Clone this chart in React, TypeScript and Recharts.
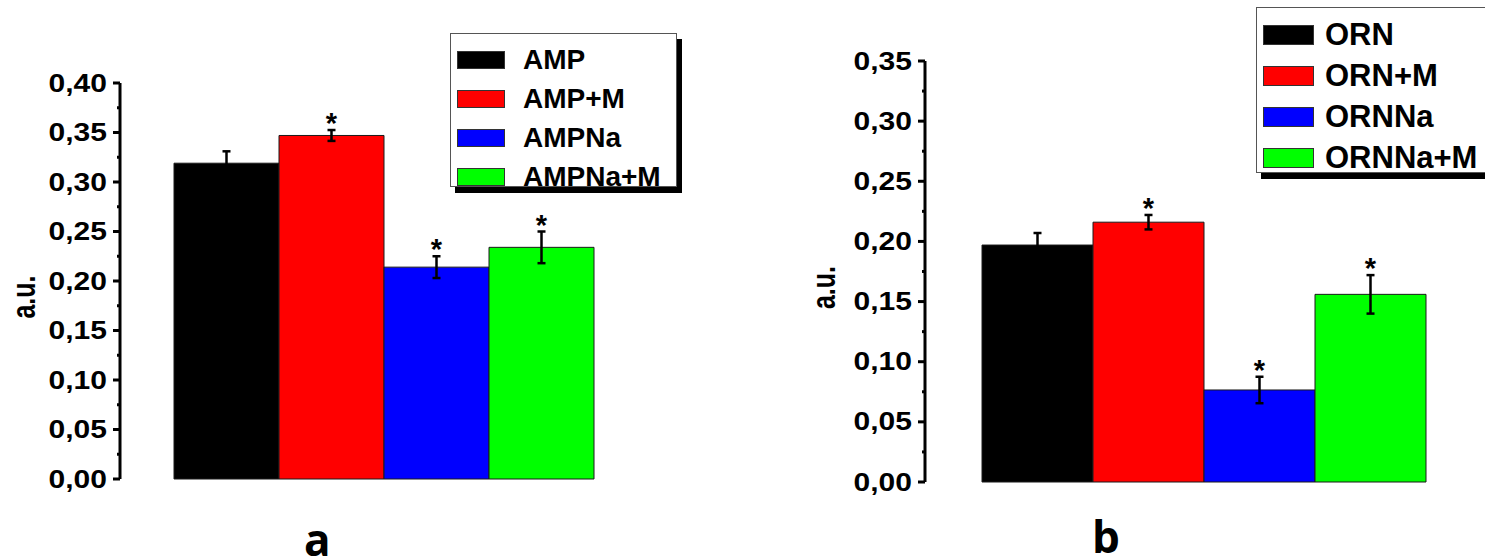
import { BarChart, Bar, XAxis, YAxis, ErrorBar, Legend, LabelList } from 'recharts';

// ---- data ----
const colors = ['#000000', '#ff0000', '#0000ff', '#00ff00'];

const leftNames = ['AMP', 'AMP+M', 'AMPNa', 'AMPNa+M'];
const leftValues = [0.319, 0.347, 0.214, 0.234];
const leftErrors = [0.012, 0.0055, 0.011, 0.016];
const leftStars = ['', '*', '*', '*'];
const leftMajorTicks = [0, 0.05, 0.1, 0.15, 0.2, 0.25, 0.3, 0.35, 0.4];
const leftAllTicks = [0, 0.025, 0.05, 0.075, 0.1, 0.125, 0.15, 0.175, 0.2, 0.225, 0.25, 0.275, 0.3, 0.325, 0.35, 0.375, 0.4];

const rightNames = ['ORN', 'ORN+M', 'ORNNa', 'ORNNa+M'];
const rightValues = [0.197, 0.216, 0.0765, 0.156];
const rightErrors = [0.01, 0.006, 0.011, 0.016];
const rightStars = ['', '*', '*', '*'];
const rightMajorTicks = [0, 0.05, 0.1, 0.15, 0.2, 0.25, 0.3, 0.35];
const rightAllTicks = [0, 0.025, 0.05, 0.075, 0.1, 0.125, 0.15, 0.175, 0.2, 0.225, 0.25, 0.275, 0.3, 0.325, 0.35];

const FONT = '"Liberation Sans", Arial, sans-serif';
const TICK_SIZE = 7;
const TICK_MARGIN = 6;

function buildRow(group: string, values: number[], errors: number[], stars: string[]) {
  const row: any = { group };
  values.forEach((v, i) => {
    row[`s${i}`] = v;
    row[`e${i}`] = errors[i];
    row[`t${i}`] = stars[i];
  });
  return [row];
}

const fmt = (v: number) => v.toFixed(2).replace('.', ',');

function makeTick(major: number[], fontSize: number) {
  return (props: any) => {
    const { x, y, payload } = props;
    const isMajor = major.some((m) => Math.abs(m - payload.value) < 1e-6);
    const ax = x + TICK_SIZE + TICK_MARGIN;
    return (
      <g>
        <line x1={ax - (isMajor ? TICK_SIZE : 3)} x2={ax} y1={y} y2={y} stroke="#000" strokeWidth={3} />
        {isMajor && (
          <text
            transform={`translate(${x},${y}) scale(1.2,1)`}
            textAnchor="end"
            dominantBaseline="central"
            fontFamily={FONT}
            fontWeight="bold"
            fontSize={fontSize}
            fill="#000"
          >
            {fmt(payload.value)}
          </text>
        )}
      </g>
    );
  };
}

function makeAxisTitle(dx: number, dy: number) {
  return (props: any) => {
    const vb = props.viewBox;
    const cx = vb.x + dx;
    const cy = vb.y + vb.height / 2 + dy;
    return (
      <text
        transform={`translate(${cx},${cy}) scale(1.3,1) rotate(-90)`}
        textAnchor="middle"
        dominantBaseline="central"
        fontFamily={FONT}
        fontWeight="bold"
        fontSize={25}
        fill="#000"
      >
        a.u.
      </text>
    );
  };
}

function makeStar(value: number, error: number) {
  return (props: any) => {
    if (!props.value) return null;
    const vb = props.viewBox ?? props;
    const h = Math.abs(vb.height);
    const top = Math.min(vb.y, vb.y + vb.height);
    const errPx = (error * h) / value;
    return (
      <text
        x={vb.x + vb.width / 2}
        y={top - errPx + 3}
        textAnchor="middle"
        fontFamily={FONT}
        fontWeight="bold"
        fontSize={29}
        fill="#000"
      >
        {props.value}
      </text>
    );
  };
}

function makeLegend(opts: { swW: number; swH: number; gap: number; rowH: number; padTop: number; fontSize: number }) {
  return (props: any) => {
    const payload = props.payload || [];
    return (
      <div
        style={{
          width: '100%',
          height: '100%',
          boxSizing: 'border-box',
          background: '#fff',
          border: '1px solid #555',
          boxShadow: '5px 6px 0 #000',
          paddingTop: opts.padTop,
          paddingLeft: 6,
        }}
      >
        {payload.map((p: any) => (
          <div key={p.value} style={{ height: opts.rowH, display: 'flex', alignItems: 'center' }}>
            <div
              style={{
                width: opts.swW,
                height: opts.swH,
                background: p.color,
                border: '1px solid #333',
                boxSizing: 'border-box',
                marginRight: opts.gap,
                flex: 'none',
              }}
            />
            <span
              style={{
                fontFamily: FONT,
                fontWeight: 'bold',
                fontSize: opts.fontSize,
                color: '#000',
                whiteSpace: 'nowrap',
                lineHeight: 1,
              }}
            >
              {p.value}
            </span>
          </div>
        ))}
      </div>
    );
  };
}

interface PanelProps {
  width: number;
  margin: { top: number; right: number; bottom: number; left: number };
  axisWidth: number;
  padLeft: number;
  max: number;
  names: string[];
  values: number[];
  errors: number[];
  stars: string[];
  allTicks: number[];
  majorTicks: number[];
  tickFont: number;
  titleDx: number;
  legendStyle: any;
  legend: any;
  group: string;
}

function Panel(p: PanelProps) {
  const data = buildRow(p.group, p.values, p.errors, p.stars);
  return (
    <BarChart width={p.width} height={560} data={data} margin={p.margin} barGap={0} barCategoryGap={0}>
      <XAxis dataKey="group" hide padding={{ left: p.padLeft, right: 0 }} />
      <YAxis
        width={p.axisWidth}
        domain={[0, p.max]}
        ticks={p.allTicks}
        interval={0}
        tickSize={TICK_SIZE}
        tickMargin={TICK_MARGIN}
        tickLine={false}
        axisLine={{ stroke: '#000', strokeWidth: 3 }}
        tick={makeTick(p.majorTicks, p.tickFont)}
        label={{ content: makeAxisTitle(p.titleDx, 16) }}
      />
      <Legend
        layout="vertical"
        align="center"
        verticalAlign="middle"
        wrapperStyle={p.legendStyle}
        content={p.legend}
      />
      {p.names.map((name, i) => (
        <Bar
          key={name}
          dataKey={`s${i}`}
          name={name}
          fill={colors[i]}
          stroke="#1a1a1a"
          strokeWidth={1}
          isAnimationActive={false}
        >
          <ErrorBar dataKey={`e${i}`} width={4} stroke="#000" strokeWidth={2.5} direction="y" isAnimationActive={false} />
          <LabelList dataKey={`t${i}`} content={makeStar(p.values[i], p.errors[i])} />
        </Bar>
      ))}
    </BarChart>
  );
}

const panelLetter = {
  position: 'absolute' as const,
  fontFamily: '"Open Sans", sans-serif',
  fontWeight: 700,
  fontSize: 44,
  lineHeight: '44px',
  color: '#000',
};

export default function App() {
  return (
    <div
      style={{
        position: 'absolute',
        left: 0,
        top: 0,
        width: 1485,
        height: 560,
        overflow: 'hidden',
        background: '#fff',
      }}
    >
      <div style={{ position: 'absolute', left: 0, top: 0 }}>
        <Panel
          group="a"
          width={700}
          margin={{ top: 83, right: 105, bottom: 81, left: 0 }}
          axisWidth={120}
          padLeft={54}
          max={0.4}
          names={leftNames}
          values={leftValues}
          errors={leftErrors}
          stars={leftStars}
          allTicks={leftAllTicks}
          majorTicks={leftMajorTicks}
          tickFont={25}
          titleDx={24}
          legendStyle={{ left: 450, top: 33, width: 227, height: 154 }}
          legend={makeLegend({ swW: 48, swH: 18, gap: 18, rowH: 39, padTop: 6, fontSize: 28 })}
        />
      </div>
      <div style={{ position: 'absolute', left: 700, top: 0 }}>
        <Panel
          group="b"
          width={785}
          margin={{ top: 61, right: 58, bottom: 78, left: 0 }}
          axisWidth={225}
          padLeft={57}
          max={0.35}
          names={rightNames}
          values={rightValues}
          errors={rightErrors}
          stars={rightStars}
          allTicks={rightAllTicks}
          majorTicks={rightMajorTicks}
          tickFont={25}
          titleDx={124}
          legendStyle={{ left: 556, top: 7, width: 240, height: 166 }}
          legend={makeLegend({ swW: 51, swH: 20, gap: 11, rowH: 41, padTop: 6, fontSize: 31 })}
        />
      </div>
      <div style={{ ...panelLetter, left: 304, top: 517 }}>a</div>
      <div style={{ ...panelLetter, left: 1092, top: 514 }}>b</div>
    </div>
  );
}
